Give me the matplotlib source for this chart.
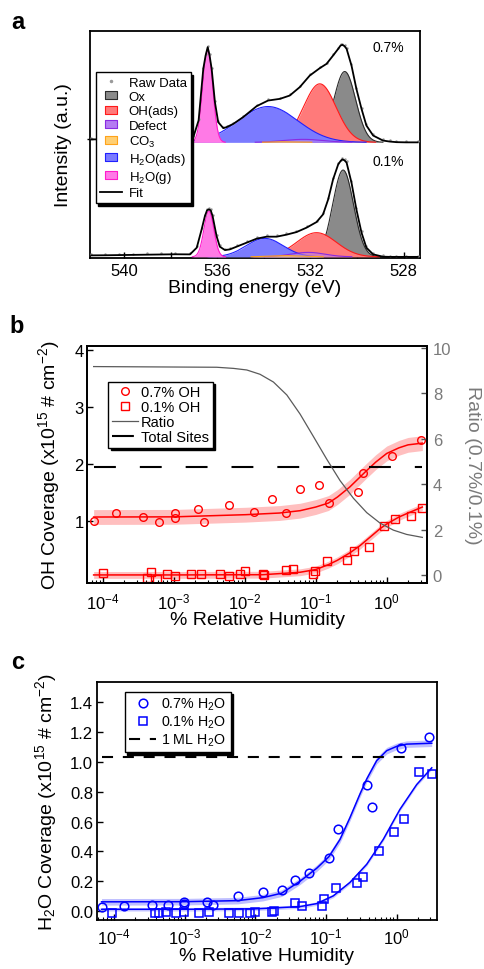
import numpy as np
import matplotlib
matplotlib.use('Agg')
import matplotlib.pyplot as plt
from matplotlib.lines import Line2D
from matplotlib.path import Path
from matplotlib.ticker import FormatStrFormatter

# ---------------- panel a: O 1s XPS ----------------
comp_names = ['Ox', 'OH(ads)', 'Defect', 'CO$_3$', 'H$_2$O(ads)', 'H$_2$O(g)']
center_07 = [530.53, 531.60, 532.30, 533.00, 533.82, 536.41]
height_07 = [70.8, 58.5, 3.0, 0.6, 35.8, 92.8]
fwhm_07 = [1.10, 1.64, 2.00, 1.50, 3.00, 0.50]
center_01 = [530.60, 531.74, 532.10, 533.00, 533.96, 536.36]
height_01 = [86.8, 24.2, 4.5, 1.2, 18.5, 45.8]
fwhm_01 = [1.05, 2.00, 1.70, 1.80, 1.86, 0.50]

be_07 = [541.4, 540.0, 538.5, 537.6, 537.03, 536.80, 536.60, 536.50, 536.41,
         536.33, 536.24, 536.10, 535.96, 535.74, 535.60, 535.31, 534.89,
         534.31, 533.82, 533.31, 532.89, 532.46, 532.03, 531.60, 531.31,
         531.03, 530.81, 530.71, 530.63, 530.54, 530.45, 530.24, 530.03,
         529.81, 529.60, 529.31, 528.89, 528.60, 528.31, 527.90, 527.40]
int_07 = [3.0, 2.8, 2.6, 3.0, 5.0, 22.0, 73.5, 86.8, 95.2, 86.8, 73.5, 40.2,
          20.2, 14.2, 15.2, 18.5, 25.2, 36.2, 41.8, 43.5, 46.8, 55.2, 66.8,
          74.2, 78.5, 86.8, 93.5, 96.8, 97.5, 96.2, 93.5, 76.8, 53.5, 33.5,
          16.8, 6.8, 1.8, 0.8, 0.2, 0.0, 0.0]
be_01 = [541.4, 540.8, 540.2, 539.6, 539.0, 538.4, 537.8, 537.17, 536.88,
         536.67, 536.53, 536.44, 536.36, 536.28, 536.20, 536.03, 535.89,
         535.67, 535.46, 535.17, 534.74, 534.31, 533.88, 533.45, 533.03,
         532.60, 532.17, 531.74, 531.46, 531.24, 531.03, 530.81, 530.71,
         530.63, 530.54, 530.45, 530.24, 530.03, 529.81, 529.60, 529.31,
         528.89, 528.60, 528.31, 527.90, 527.40]
int_01 = [1.5, 1.6, 1.8, 2.0, 2.2, 2.4, 2.6, 2.5, 9.2, 27.5, 40.8, 46.5, 47.5,
          46.5, 40.8, 20.8, 10.2, 6.8, 7.5, 10.2, 14.2, 18.2, 20.2, 20.2,
          22.2, 24.8, 29.2, 34.8, 42.5, 57.5, 77.5, 92.5, 95.8, 97.5, 96.5,
          94.2, 74.2, 47.5, 24.2, 9.2, 2.5, 0.2, 0.0, 0.0, 0.0, 0.0]

# ---------------- panel b: OH coverage ----------------
oh07_rh = [7.47e-5, 1.51e-4, 3.62e-4, 6.21e-4, 1.05e-3, 1.05e-3, 2.18e-3,
           2.67e-3, 5.95e-3, 0.0135, 0.0245, 0.0382, 0.0601, 0.1127, 0.1525,
           0.399, 0.459, 1.175, 3.01]
oh07_cov = [1.003, 1.131, 1.073, 0.980, 1.137, 1.044, 1.207, 0.974, 1.277,
            1.155, 1.376, 1.137, 1.557, 1.633, 1.312, 1.504, 1.837, 2.128,
            2.420]
oh01_rh = [1.0e-4, 4.17e-4, 4.74e-4, 5.76e-4, 7.96e-4, 1.03e-3, 1.72e-3,
           2.38e-3, 4.40e-3, 6.08e-3, 8.6e-3, 0.0102, 0.0179, 0.0189, 0.0382,
           0.048, 0.0908, 0.0968, 0.1445, 0.279, 0.347, 0.570, 0.927, 1.31,
           2.18, 3.18]
oh01_cov = [0.087, -0.006, 0.099, -0.017, 0.076, 0.035, 0.076, 0.076, 0.064,
            0.035, 0.070, 0.128, 0.070, 0.052, 0.146, 0.157, 0.076, 0.128,
            0.292, 0.309, 0.466, 0.548, 0.915, 1.032, 1.079, 1.230]

oh07_fit_rh = [7.4e-5, 1e-3, 0.0103, 0.0308, 0.0601, 0.100, 0.151, 0.202,
               0.301, 0.501, 0.700, 1.0, 1.49, 2.0, 3.18]
oh07_fit = [1.067, 1.070, 1.108, 1.137, 1.178, 1.242, 1.312, 1.417, 1.592,
            1.860, 2.029, 2.181, 2.280, 2.332, 2.362]
oh01_fit_rh = [7.4e-5, 1e-3, 0.0178, 0.0316, 0.0601, 0.100, 0.151, 0.202,
               0.301, 0.421, 0.602, 0.806, 1.0, 1.49, 2.0, 3.18]
oh01_fit = [0.052, 0.052, 0.056, 0.076, 0.099, 0.146, 0.233, 0.309, 0.437,
            0.566, 0.729, 0.863, 0.945, 1.067, 1.137, 1.242]
oh07_band = 0.13
oh01_band = 0.06

ratio_rh = [7.4e-5, 4.03e-3, 6.92e-3, 0.01067, 0.0164, 0.0253, 0.0391,
            0.0601, 0.0927, 0.143, 0.220, 0.340, 0.523, 0.805, 1.24, 1.91,
            3.18]
ratio = [9.18, 9.15, 9.10, 9.03, 8.84, 8.50, 7.93, 7.09, 6.10, 5.10, 4.16,
         3.38, 2.75, 2.29, 1.98, 1.79, 1.66]
total_sites = 1.94
sites_rh = [7.4e-5, 3.18]

# ---------------- panel c: H2O coverage ----------------
w07_rh = [6.9e-5, 1.40e-4, 3.41e-4, 5.87e-4, 9.9e-4, 9.9e-4, 2.05e-3,
          2.55e-3, 5.62e-3, 0.0128, 0.0236, 0.0368, 0.0581, 0.110, 0.150,
          0.385, 0.448, 1.14, 2.90]
w07_cov = [0.025, 0.036, 0.040, 0.042, 0.045, 0.060, 0.062, 0.042, 0.098,
           0.125, 0.143, 0.209, 0.254, 0.359, 0.553, 0.847, 0.700, 1.096,
           1.168]
w01_rh = [9.3e-5, 3.8e-4, 4.38e-4, 5.38e-4, 7.46e-4, 9.68e-4, 1.61e-3,
          2.23e-3, 4.2e-3, 5.87e-3, 8.3e-3, 9.8e-3, 0.0170, 0.0184, 0.0364,
          0.0453, 0.0869, 0.0937, 0.139, 0.272, 0.337, 0.562, 0.907, 1.27,
          2.09, 3.13]
w01_cov = [-0.013, -0.013, -0.013, -0.009, -0.013, -0.009, -0.013, -0.009,
           -0.013, -0.013, -0.013, -0.004, -0.009, 0.002, 0.051, 0.036,
           0.031, 0.080, 0.156, 0.185, 0.229, 0.401, 0.532, 0.615, 0.936,
           0.921]

w07_fit_rh = [6.7e-5, 1e-3, 5.6e-3, 0.0128, 0.0236, 0.0429, 0.0738, 0.110,
              0.158, 0.218, 0.303, 0.377, 0.521, 0.722, 1.0, 1.38, 3.13]
w07_fit = [0.062, 0.063, 0.070, 0.090, 0.120, 0.200, 0.287, 0.365, 0.481,
           0.626, 0.786, 0.886, 1.009, 1.076, 1.105, 1.120, 1.126]
w01_fit_rh = [6.7e-5, 1e-3, 0.01, 0.0429, 0.0738, 0.127, 0.218, 0.377,
              0.646, 1.11, 1.92, 3.13]
w01_fit = [0.012, 0.012, 0.015, 0.030, 0.050, 0.102, 0.192, 0.314, 0.481,
           0.682, 0.849, 0.961]
w07_band = 0.022
w01_band = 0.012
monolayer = 1.034
ml_rh = [6.7e-5, 3.0]

# ---------------- style ----------------
plt.rcParams['font.family'] = ['Liberation Sans', 'DejaVu Sans']
plt.rcParams['mathtext.fontset'] = 'custom'
plt.rcParams['mathtext.rm'] = 'Liberation Sans'
plt.rcParams['mathtext.it'] = 'Liberation Sans:italic'
plt.rcParams['mathtext.bf'] = 'Liberation Sans:bold'
plt.rcParams['axes.linewidth'] = 1.3
plt.rcParams['font.size'] = 12

fill_colors = ['#8a8a8a', '#ff7a7a', '#b57cf2', '#ffcf73', '#7b7bff', '#ff7ae6']
edge_colors = ['#2b2b2b', '#ff1a1a', '#8a2be2', '#ffa31a', '#2020ff', '#ff1acc']
draw_z = [2, 3, 6, 6.5, 4, 5]
fill_alpha = [1, 1, 0.6, 0.8, 1, 1]

shadow = {'color': 'black', 'alpha': 1, 'ox': 1.6, 'oy': -1.6}


def gauss(e, c, h, w):
    s = w / 2.3548
    return h * np.exp(-0.5 * ((e - c) / s) ** 2)


def style_legend(leg):
    leg.get_frame().set_linewidth(1.0)
    leg.get_frame().set_edgecolor('black')


fig = plt.figure(figsize=(4.85, 9.7), dpi=100)

# ---------------- panel a ----------------
ax_a = fig.add_axes([0.1856, 0.7326, 0.6804, 0.2349])
e = np.linspace(527.2, 541.6, 1200)
offsets = [116.0, 1.5]
for off, cen, hei, fw in [(offsets[0], center_07, height_07, fwhm_07),
                          (offsets[1], center_01, height_01, fwhm_01)]:
    for i in range(len(comp_names)):
        y = gauss(e, cen[i], hei[i], fw[i])
        m = y > 0.15
        ax_a.fill_between(e, off, off + y, where=m, color=fill_colors[i],
                          alpha=fill_alpha[i], lw=0, zorder=draw_z[i])
        ax_a.plot(e[m], off + y[m], color=edge_colors[i], lw=0.8,
                  zorder=draw_z[i] + 0.1)

ax_a.plot(be_07, np.array(int_07) + offsets[0] + 1.2, ls='none', marker='.',
          ms=1.6, color='#a0a0a0', zorder=7)
ax_a.plot(be_01, np.array(int_01) + offsets[1] + 1.2, ls='none', marker='.',
          ms=1.6, color='#a0a0a0', zorder=7)
ax_a.plot(be_07, np.array(int_07) + offsets[0], color='black', lw=1.3, zorder=8)
ax_a.plot(be_01, np.array(int_01) + offsets[1], color='black', lw=1.3, zorder=8)

ax_a.set_xlim(541.46, 527.3)
ax_a.set_ylim(0, 227.8)
ax_a.set_xticks([540, 536, 532, 528])
ax_a.set_xticks([538, 534, 530], minor=True)
ax_a.set_yticks([119.5])
ax_a.set_yticklabels([])
ax_a.tick_params(axis='x', which='both', direction='in', length=4.5,
                 width=1.0, top=False, pad=3, labelsize=12)
ax_a.tick_params(axis='y', direction='inout', length=5, width=1.0)
ax_a.set_xlabel('Binding energy (eV)', fontsize=14, labelpad=1)
ax_a.set_ylabel('Intensity (a.u.)', fontsize=14, labelpad=7)
ax_a.text(0.903, 0.928, '0.7%', transform=ax_a.transAxes, fontsize=10,
          ha='center', va='center')
ax_a.text(0.903, 0.428, '0.1%', transform=ax_a.transAxes, fontsize=10,
          ha='center', va='center')

rect = Path([(-1, -0.6), (1, -0.6), (1, 0.6), (-1, 0.6), (-1, -0.6)],
            [Path.MOVETO, Path.LINETO, Path.LINETO, Path.LINETO, Path.CLOSEPOLY])
handles_a = [Line2D([], [], ls='none', marker='.', ms=3, color='#9a9a9a')]
for i in range(len(comp_names)):
    handles_a.append(Line2D([], [], ls='none', marker=rect, ms=8.5,
                            mfc=fill_colors[i], mec=edge_colors[i], mew=0.8))
handles_a.append(Line2D([], [], color='black', lw=1.3))
labels_a = ['Raw Data'] + comp_names + ['Fit']
leg_a = ax_a.legend(handles_a, labels_a, loc='upper left',
                    bbox_to_anchor=(0.1973, 0.9244),
                    bbox_transform=fig.transFigure, fontsize=9.5,
                    frameon=True, fancybox=False, framealpha=1,
                    shadow=shadow, borderpad=0.3, labelspacing=0.16,
                    handlelength=1.7, handletextpad=0.5, borderaxespad=0)
style_legend(leg_a)
leg_a.set_zorder(20)

# ---------------- panel b ----------------
ax_b = fig.add_axes([0.1800, 0.3979, 0.7010, 0.2447])
ax_b.set_xscale('log')
lo = np.array(oh07_fit) - oh07_band
hi = np.array(oh07_fit) + oh07_band
ax_b.fill_between(oh07_fit_rh, lo, hi, color='red', alpha=0.25, lw=0)
lo = np.array(oh01_fit) - oh01_band
hi = np.array(oh01_fit) + oh01_band
ax_b.fill_between(oh01_fit_rh, lo, hi, color='red', alpha=0.25, lw=0)
ax_b.plot(oh07_fit_rh, oh07_fit, color='red', lw=1.1)
ax_b.plot(oh01_fit_rh, oh01_fit, color='red', lw=1.1)
h_oh07, = ax_b.plot(oh07_rh, oh07_cov, ls='none', marker='o', ms=5.5,
                    mfc='none', mec='red', mew=1.0)
h_oh01, = ax_b.plot(oh01_rh, oh01_cov, ls='none', marker='s', ms=5.2,
                    mfc='none', mec='red', mew=1.0)
h_sites, = ax_b.plot(sites_rh, [total_sites] * 2, color='black', lw=1.5,
                     dashes=(10.5, 11.5))
ax_b.set_xlim(10 ** -4.22, 10 ** 0.572)
ax_b.set_ylim(-0.09, 4.07)
ax_b.set_yticks([1, 2, 3, 4])
ax_b.tick_params(axis='both', which='major', direction='in', length=4.5,
                 width=1.0, top=False, right=False, labelsize=12)
ax_b.tick_params(axis='x', which='major', pad=6)
ax_b.tick_params(axis='x', which='minor', direction='in', length=2.5,
                 width=0.8, top=False)
ax_b.tick_params(axis='y', pad=2.5)
ax_b.set_xlabel('% Relative Humidity', fontsize=14, labelpad=0)
ax_b.set_ylabel('OH Coverage (x10$^{15}$ # cm$^{-2}$)', fontsize=14,
                labelpad=9)

ax_r = ax_b.twinx()
ax_r.set_xscale('log')
h_ratio, = ax_r.plot(ratio_rh, ratio, color='#5a5a5a', lw=0.9)
ax_r.set_xlim(10 ** -4.22, 10 ** 0.572)
ax_r.set_ylim(-0.35, 10.1)
ax_r.set_yticks([0, 2, 4, 6, 8, 10])
ax_r.tick_params(axis='y', direction='in', length=4.5, width=1.0,
                 labelsize=12, labelcolor='#7a7a7a', color='#555555', pad=4)
ax_r.set_ylabel('Ratio (0.7%/0.1%)', fontsize=14, color='#7a7a7a',
                rotation=270, labelpad=21)

leg_b = ax_r.legend([h_oh07, h_oh01, h_ratio, h_sites],
                    ['0.7% OH', '0.1% OH', 'Ratio', 'Total Sites'],
                    loc='upper left', bbox_to_anchor=(0.2234, 0.6055),
                    bbox_transform=fig.transFigure, fontsize=10.5,
                    frameon=True, fancybox=False, framealpha=1,
                    shadow=shadow, borderpad=0.25, labelspacing=0.06,
                    handlelength=1.8, handletextpad=0.2, borderaxespad=0)
style_legend(leg_b)

# ---------------- panel c ----------------
ax_c = fig.add_axes([0.1993, 0.0505, 0.7023, 0.2451])
ax_c.set_xscale('log')
lo = np.array(w07_fit) - w07_band
hi = np.array(w07_fit) + w07_band
ax_c.fill_between(w07_fit_rh, lo, hi, color='blue', alpha=0.25, lw=0)
lo = np.array(w01_fit) - w01_band
hi = np.array(w01_fit) + w01_band
ax_c.fill_between(w01_fit_rh, lo, hi, color='blue', alpha=0.2, lw=0)
ax_c.plot(w07_fit_rh, w07_fit, color='blue', lw=1.1)
ax_c.plot(w01_fit_rh, w01_fit, color='blue', lw=1.1)
h_w07, = ax_c.plot(w07_rh, w07_cov, ls='none', marker='o', ms=6.2,
                   mfc='none', mec='blue', mew=1.1)
h_w01, = ax_c.plot(w01_rh, w01_cov, ls='none', marker='s', ms=6.0,
                   mfc='none', mec='blue', mew=1.1)
h_ml, = ax_c.plot(ml_rh, [monolayer] * 2, color='black', lw=1.5,
                  dashes=(5.3, 4.7))
ax_c.set_xlim(10 ** -4.243, 10 ** 0.574)
ax_c.set_ylim(-0.06, 1.535)
ax_c.set_yticks([0.0, 0.2, 0.4, 0.6, 0.8, 1.0, 1.2, 1.4])
ax_c.yaxis.set_major_formatter(FormatStrFormatter('%.1f'))
ax_c.tick_params(axis='both', which='major', direction='in', length=4.5,
                 width=1.0, top=False, right=False, labelsize=12)
ax_c.tick_params(axis='x', which='major', pad=5)
ax_c.tick_params(axis='x', which='minor', direction='in', length=2.5,
                 width=0.8, top=False)
ax_c.tick_params(axis='y', pad=2.5)
ax_c.set_xlabel('% Relative Humidity', fontsize=14, labelpad=0)
ax_c.set_ylabel('H$_2$O Coverage (x10$^{15}$ # cm$^{-2}$)', fontsize=14,
                labelpad=8)

leg_c = ax_c.legend([h_w07, h_w01, h_ml],
                    ['0.7% H$_2$O', '0.1% H$_2$O', '1 ML H$_2$O'],
                    loc='upper left', bbox_to_anchor=(0.2571, 0.2859),
                    bbox_transform=fig.transFigure, fontsize=10.3,
                    frameon=True, fancybox=False, framealpha=1,
                    shadow=shadow, borderpad=0.3, labelspacing=0.1,
                    handlelength=1.9, handletextpad=0.35, borderaxespad=0)
style_legend(leg_c)

# panel letters
fig.text(0.037, 0.977, 'a', fontsize=17, fontweight='bold', ha='center', va='center')
fig.text(0.035, 0.663, 'b', fontsize=17, fontweight='bold', ha='center', va='center')
fig.text(0.037, 0.3165, 'c', fontsize=17, fontweight='bold', ha='center', va='center')

fig.savefig('out.png', dpi=100)
